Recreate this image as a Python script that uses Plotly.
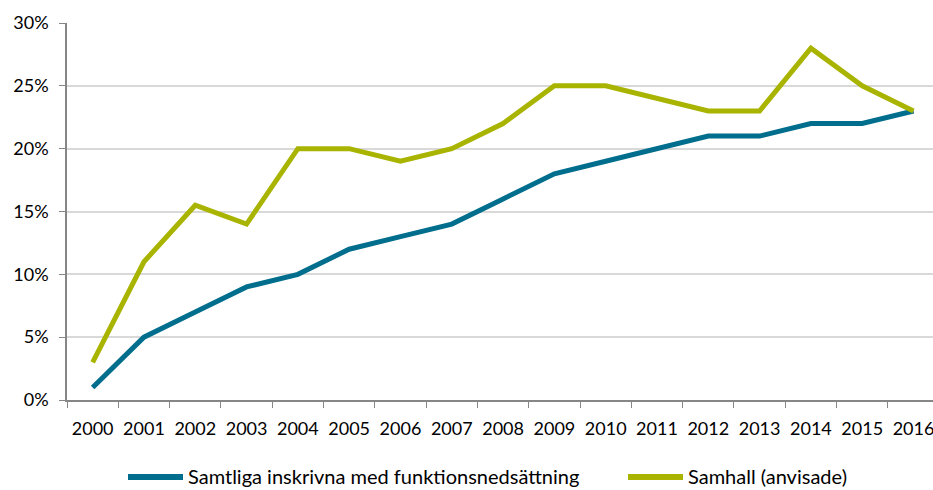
import plotly.graph_objects as go

years = [str(y) for y in range(2000, 2017)]
samtliga = [0.01, 0.05, 0.07, 0.09, 0.10, 0.12, 0.13, 0.14, 0.16, 0.18, 0.19, 0.20, 0.21, 0.21, 0.22, 0.22, 0.23]
samhall = [0.03, 0.11, 0.155, 0.14, 0.20, 0.20, 0.19, 0.20, 0.22, 0.25, 0.25, 0.24, 0.23, 0.23, 0.28, 0.25, 0.23]
series_names = ["Samtliga inskrivna med funktionsnedsättning", "Samhall (anvisade)"]
colors = ["#006E8C", "#A8B400"]

FONT = "Lato"
W, H = 933, 490
ML, MR, MT, MB = 67, 0, 23, 90
PW, PH = W - ML - MR, H - MT - MB

def px_x(p):
    return (p - ML) / PW

def px_y(p):
    return (H - MB - p) / PH

fig = go.Figure()
for name, vals, col in zip(series_names, [samtliga, samhall], colors):
    fig.add_trace(go.Scatter(x=years, y=vals, mode="lines", name=name,
                             line=dict(color=col, width=5), showlegend=False))

# manual legend (positioned in pixels)
legend_pos = [128, 628]
for name, col, lx in zip(series_names, colors, legend_pos):
    fig.add_shape(type="line", xref="paper", yref="paper",
                  x0=px_x(lx), x1=px_x(lx + 55), y0=px_y(477), y1=px_y(477),
                  line=dict(color=col, width=6))
    fig.add_annotation(xref="paper", yref="paper", x=px_x(lx + 58), y=px_y(476),
                       xanchor="left", yanchor="middle", showarrow=False,
                       text=name, font=dict(family=FONT, size=20, color="#000"))

fig.update_layout(
    width=W, height=H,
    margin=dict(l=ML, r=MR, t=MT, b=MB, autoexpand=False),
    paper_bgcolor="white", plot_bgcolor="white",
    font=dict(family=FONT, size=18, color="#000000"),
    showlegend=False,
)
fig.update_xaxes(type="category", range=[-0.5, 16.38], tickson="boundaries",
                 ticks="outside", ticklen=6, tickcolor="#868686",
                 showline=True, linecolor="#868686", linewidth=1.5,
                 showgrid=False, ticklabelstandoff=12)
fig.update_yaxes(range=[0, 0.30], dtick=0.05, tickformat=".0%",
                 ticks="outside", ticklen=6, tickcolor="#868686",
                 showline=True, linecolor="#868686", linewidth=1.5,
                 gridcolor="#D9D9D9", gridwidth=1.5, zeroline=False,
                 ticklabelstandoff=7)

fig.write_html("out.html")
